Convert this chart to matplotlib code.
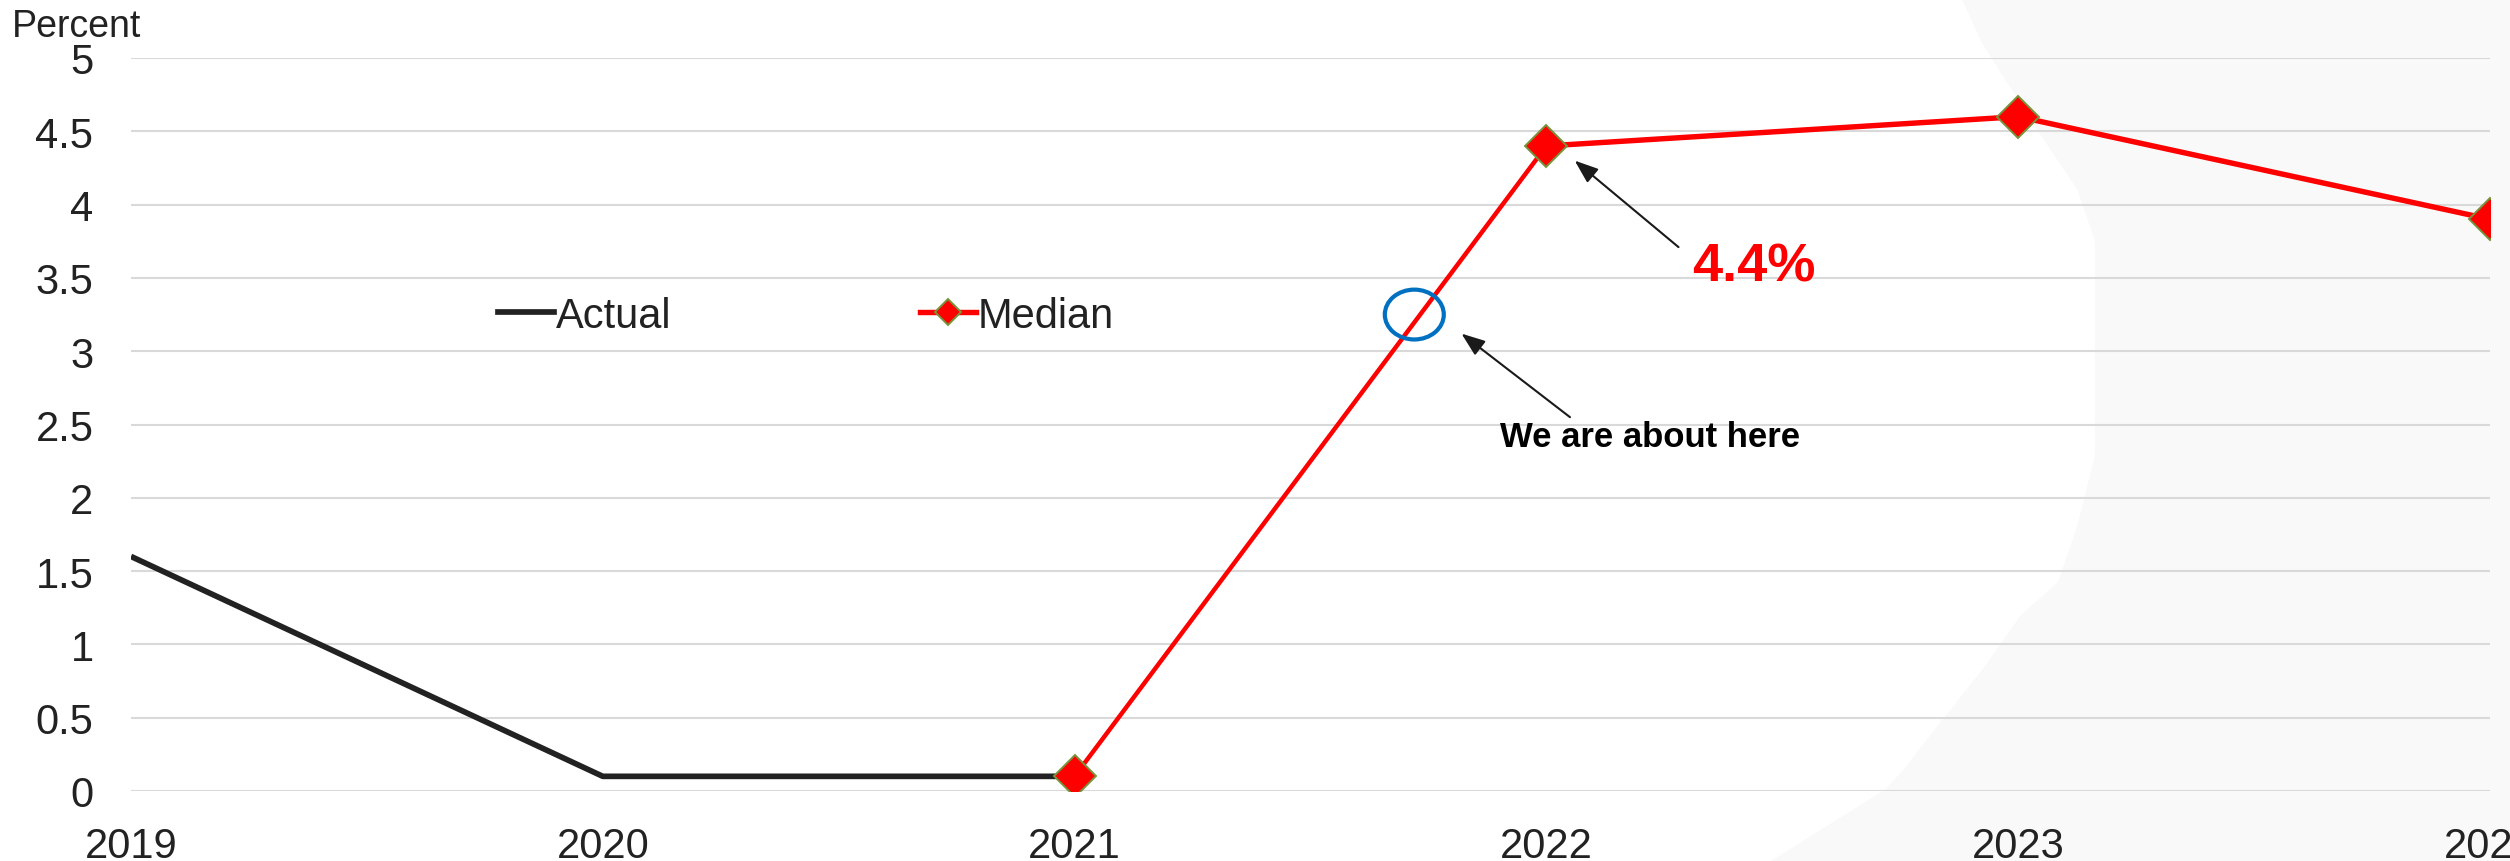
import matplotlib
matplotlib.use('Agg')
import matplotlib.pyplot as plt
from matplotlib.lines import Line2D
from matplotlib.patches import Ellipse, Polygon

# inflation, percent
years = [2019, 2020, 2021, 2022, 2023, 2024]
actual_years = [2019, 2020, 2021]
actual = [1.6, 0.1, 0.1]
median_years = [2021, 2022, 2023, 2024]
median = [0.1, 4.4, 4.6, 3.9]
yticks = [0, 0.5, 1, 1.5, 2, 2.5, 3, 3.5, 4, 4.5, 5]

plt.rcParams['font.family'] = ['Liberation Sans', 'DejaVu Sans']
W, H = 2510, 862
fig = plt.figure(figsize=(W / 100, H / 100), dpi=100)

# light grey backdrop on the right (pixel coords from top-left)
bg = [(1962, 0), (1982, 44), (2038, 132), (2077, 190), (2095, 242), (2095, 456),
      (2077, 528), (2058, 583), (2021, 616), (1982, 671), (1943, 720), (1904, 770),
      (1886, 790), (1771, 862), (2510, 862), (2510, 0)]
fig.add_artist(Polygon([(x / W, 1 - y / H) for x, y in bg], closed=True,
                       facecolor='#f9f9f9', edgecolor='none',
                       transform=fig.transFigure, zorder=-5))

ax = fig.add_axes([131 / W, 1 - 792 / H, (2490 - 131) / W, (792 - 59) / H])
ax.set_facecolor('none')
ax.set_xlim(2019, 2024)
ax.set_ylim(0, 5)
for s in ax.spines.values():
    s.set_visible(False)
ax.set_yticks(yticks)
ax.set_yticklabels([f'{v:g}' for v in yticks])
ax.set_xticks(years)
ax.set_xticklabels([str(y) for y in years])
ax.tick_params(axis='y', length=0, pad=27, labelsize=30, labelcolor='#222222')
ax.tick_params(axis='x', length=0, pad=25, labelsize=30, labelcolor='#222222')
ax.grid(axis='y', color='#d9d9d9', lw=1.5)
ax.set_axisbelow(True)

ax.plot(actual_years, actual, color='#222222', lw=4.1, solid_capstyle='butt')
ax.plot(median_years[:2], median[:2], color='red', lw=3.2)
ax.plot(median_years[1:], median[1:], color='red', lw=3.9)
mk = dict(marker='D', ms=21.5, mfc='red', mec='#77933C', mew=1.4)
ax.plot(median_years, median, ls='none', **mk)

# legend
h_act = Line2D([], [], color='#222222', lw=4.1)
h_med = Line2D([], [], color='red', lw=3.9, **mk)
ax.legend([h_act, h_med], ['Actual', 'Median'], ncol=2, frameon=False,
          loc='center left', bbox_to_anchor=(498 / W, 1 - 317 / H),
          bbox_transform=fig.transFigure, borderpad=0, borderaxespad=0,
          fontsize=30, handlelength=1.34, handletextpad=0.05,
          columnspacing=5.97, markerscale=0.62, labelcolor='#222222')

fig.text(12 / W, 1 - 37 / H, 'Percent', fontsize=27, color='#222222',
         ha='left', va='baseline')

# annotations
ax.add_patch(Ellipse((2021.72, 3.25), 0.125, 0.34, fill=False,
                     edgecolor='#0070C0', lw=3, zorder=5))
arrow = dict(arrowstyle='-|>,head_length=0.4,head_width=0.15', color='#1a1a1a',
             lw=1.5, mutation_scale=36, shrinkA=0, shrinkB=0)
ax.annotate('', xy=(2021.82, 3.12), xytext=(2022.05, 2.55), arrowprops=arrow)
ax.text(2022.22, 2.42, 'We are about here', fontsize=25, fontweight='bold',
        color='black', ha='center', va='center')
ax.annotate('', xy=(2022.06, 4.30), xytext=(2022.28, 3.71), arrowprops=arrow)
ax.text(2022.44, 3.58, '4.4%', fontsize=39, fontweight='bold', color='red',
        ha='center', va='center')

fig.savefig('out.png', dpi=100)
